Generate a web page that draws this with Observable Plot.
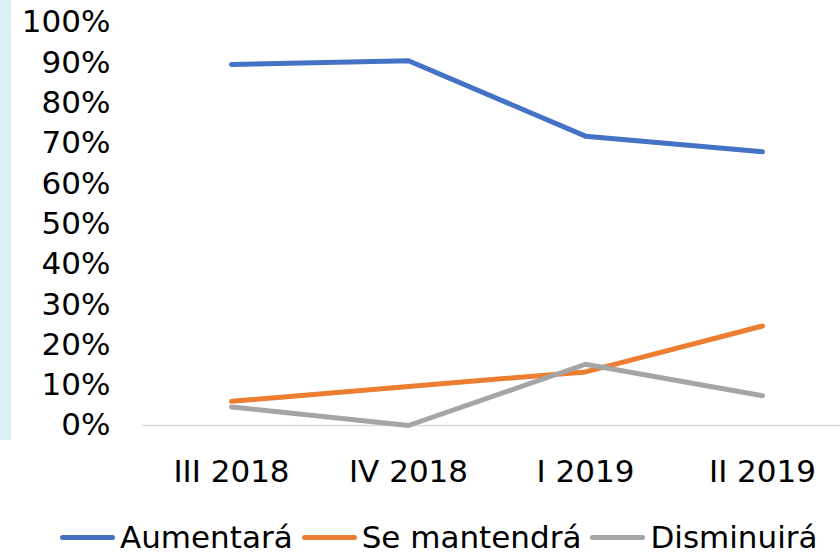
<!DOCTYPE html>
<html>
<head>
<meta charset="utf-8">
<script src="https://cdn.jsdelivr.net/npm/d3@7"></script>
<script src="https://cdn.jsdelivr.net/npm/@observablehq/plot@0.6"></script>
<style>
  html, body { margin: 0; padding: 0; background: #fff; }
  body { width: 840px; height: 554px; position: relative; overflow: hidden; font-family: Verdana, "DejaVu Sans", sans-serif; }
  #strip { position: absolute; left: 0; top: 0; width: 11px; height: 440px; background: #DAEEF7; }
  #chart { position: absolute; left: 0; top: 0; }
  #legend { position: absolute; left: 60px; top: 522px; width: 780px; display: flex; justify-content: flex-start; align-items: center; font-size: 31px; line-height: 31px; color: #000; }
  .item { display: flex; align-items: center; }
  .sw { width: 55px; height: 5px; border-radius: 3px; margin-right: 5px; }
  .item + .item { margin-left: 9px; }
</style>
</head>
<body>
<div id="strip"></div>
<div id="chart"></div>
<div id="legend"></div>
<script>
const quarters = ["III 2018", "IV 2018", "I 2019", "II 2019"];
const seriesNames = ["Aumentará", "Se mantendrá", "Disminuirá"];
const aumentara = [89.6, 90.5, 71.8, 67.9];
const mantendra = [6.0, 9.7, 13.3, 24.7];
const disminuira = [4.6, 0.0, 15.2, 7.4];
const colors = ["#4472C4", "#ED7D31", "#A5A5A5"];
const yTicks = [0, 10, 20, 30, 40, 50, 60, 70, 80, 90, 100];

const seriesValues = [aumentara, mantendra, disminuira];
const data = [];
seriesNames.forEach((s, i) => quarters.forEach((q, j) => data.push({serie: s, q, v: seriesValues[i][j]})));

const chart = Plot.plot({
  width: 840,
  height: 500,
  marginTop: 22,
  marginBottom: 75,
  marginLeft: 142,
  marginRight: 0,
  style: {fontFamily: "Verdana, 'DejaVu Sans', sans-serif", fontSize: "31px", color: "#000", background: "transparent"},
  x: {type: "point", domain: quarters, range: [230, 763], padding: 0},
  y: {domain: [0, 100]},
  color: {domain: seriesNames, range: colors},
  marks: [
    Plot.ruleY([0], {stroke: "#D9D9D9", strokeWidth: 1.5}),
    Plot.axisY({ticks: yTicks, tickSize: 0, tickPadding: 32, tickFormat: d => d + "%", fontSize: 31, label: null}),
    Plot.axisX({tickSize: 0, tickPadding: 34, fontSize: 31, label: null}),
    Plot.line(data, {x: "q", y: "v", z: "serie", stroke: "serie", strokeWidth: 5, strokeLinecap: "round", strokeLinejoin: "round"})
  ]
});
document.getElementById("chart").appendChild(chart);

const legend = document.getElementById("legend");
seriesNames.forEach((s, i) => {
  const item = document.createElement("div");
  item.className = "item";
  const sw = document.createElement("span");
  sw.className = "sw";
  sw.style.background = colors[i];
  const t = document.createElement("span");
  t.textContent = s;
  item.appendChild(sw);
  item.appendChild(t);
  legend.appendChild(item);
});
</script>
</body>
</html>
